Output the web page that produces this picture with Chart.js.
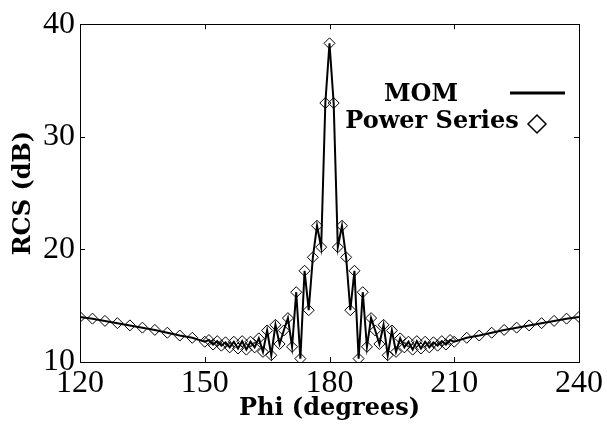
<!DOCTYPE html>
<html><head><meta charset="utf-8">
<script src="https://cdn.jsdelivr.net/npm/chart.js@4/dist/chart.umd.min.js"></script>
<style>html,body{margin:0;padding:0;background:#fff;overflow:hidden;}</style>
</head><body>
<canvas id="c" width="607" height="425"></canvas>
<script>
// ---- data ----
const phi = [120,123,126,129,132,135,138,141,144,147,
  150,151,152,153,154,155,156,157,158,159,160,161,162,163,164,165,166,167,168,169,
  170,171,172,173,174,175,176,177,178,179,180,181,182,183,184,185,186,187,188,189,
  190,191,192,193,194,195,196,197,198,199,200,201,202,203,204,205,206,207,208,209,210,
  213,216,219,222,225,228,231,234,237,240];
const momRCS = [14.0,13.85,13.65,13.45,13.25,13.05,12.85,12.6,12.35,12.15,
  11.8,11.95,11.55,11.85,11.45,11.75,11.3,11.8,11.2,11.85,11.1,11.8,11.3,12.1,10.9,12.8,10.6,13.3,11.6,12.8,
  13.9,11.35,16.2,10.3,18.1,14.6,19.3,22.1,20.2,33.0,38.3,33.0,20.2,22.1,19.3,14.6,18.1,10.3,16.2,11.35,
  13.9,12.8,11.6,13.3,10.6,12.8,10.9,12.1,11.3,11.8,11.1,11.85,11.2,11.8,11.3,11.75,11.45,11.85,11.55,11.95,11.8,
  12.15,12.35,12.6,12.85,13.05,13.25,13.45,13.65,13.85,14.0];
const powerSeriesRCS = momRCS.slice();
const seriesNames = ['MOM', 'Power Series'];
const xTicks = [120, 150, 180, 210, 240];
const yTicks = [10, 20, 30, 40];
const xTitle = 'Phi (degrees)';
const yTitle = 'RCS (dB)';

const toXY = (ys) => phi.map((p, i) => ({x: p, y: ys[i]}));
const tickFont = {family: '"Liberation Serif", "DejaVu Serif", serif', size: 32};
const titleFont = {family: '"DejaVu Serif", serif', size: 24, weight: 'bold'};

const boxPlugin = {
  id: 'box',
  afterDraw(chart) {
    const {ctx, chartArea: a, scales} = chart;
    ctx.save();
    ctx.strokeStyle = '#000';
    ctx.lineWidth = 1;
    ctx.strokeRect(Math.round(a.left) + 0.5, Math.round(a.top) + 0.5, Math.round(a.right - a.left), Math.round(a.bottom - a.top));
    const L = 5;
    ctx.beginPath();
    xTicks.forEach(v => {
      const x = Math.round(scales.x.getPixelForValue(v)) + 0.5;
      ctx.moveTo(x, a.bottom); ctx.lineTo(x, a.bottom - L);
      ctx.moveTo(x, a.top); ctx.lineTo(x, a.top + L);
    });
    yTicks.forEach(v => {
      const y = Math.round(scales.y.getPixelForValue(v)) + 0.5;
      ctx.moveTo(a.left, y); ctx.lineTo(a.left + L, y);
      ctx.moveTo(a.right, y); ctx.lineTo(a.right - L, y);
    });
    ctx.stroke();
    // legend (matplotlib style, label then handle)
    ctx.fillStyle = '#000';
    ctx.font = 'bold 24px "DejaVu Serif", serif';
    ctx.textAlign = 'center';
    ctx.textBaseline = 'middle';
    ctx.fillText(seriesNames[0], 421, 95);
    ctx.fillText(seriesNames[1], 432, 122);
    ctx.lineWidth = 3;
    ctx.beginPath(); ctx.moveTo(510, 93); ctx.lineTo(565, 93); ctx.stroke();
    ctx.lineWidth = 1.5;
    ctx.beginPath();
    ctx.moveTo(537, 115); ctx.lineTo(546, 124); ctx.lineTo(537, 133); ctx.lineTo(528, 124); ctx.closePath();
    ctx.stroke();
    ctx.restore();
  }
};

new Chart(document.getElementById('c'), {
  type: 'scatter',
  data: {
    datasets: [
      {label: seriesNames[0], data: toXY(momRCS), showLine: true, borderColor: '#000', borderWidth: 2,
       pointRadius: 0, fill: false, tension: 0, order: 2},
      {label: seriesNames[1], data: toXY(powerSeriesRCS), showLine: false, pointStyle: 'rectRot',
       pointRadius: 5.5, pointBorderColor: '#000', pointBorderWidth: 1, pointBackgroundColor: 'rgba(0,0,0,0)', order: 1}
    ]
  },
  options: {
    responsive: false,
    devicePixelRatio: 1,
    animation: false,
    layout: {padding: {top: 20, right: 28, left: 0, bottom: 0}},
    plugins: {legend: {display: false}, tooltip: {enabled: false}},
    scales: {
      x: {
        type: 'linear', min: 120, max: 240,
        afterBuildTicks: s => { s.ticks = xTicks.map(v => ({value: v})); },
        afterFit: s => { s.height = 63; },
        grid: {display: false, drawTicks: false},
        border: {display: false},
        ticks: {font: tickFont, color: '#000', padding: 2, maxRotation: 0, autoSkip: false},
        title: {display: true, text: xTitle, font: titleFont, color: '#000', padding: {top: 0, bottom: 2}}
      },
      y: {
        type: 'linear', min: 10, max: 40,
        afterBuildTicks: s => { s.ticks = yTicks.map(v => ({value: v})); },
        afterFit: s => { s.width = 80; },
        grid: {display: false, drawTicks: false},
        border: {display: false},
        ticks: {font: tickFont, color: '#000', padding: 5, autoSkip: false},
        title: {display: true, text: yTitle, font: titleFont, color: '#000', padding: {top: 9, bottom: 0}}
      }
    }
  },
  plugins: [boxPlugin]
});
</script>
</body></html>
